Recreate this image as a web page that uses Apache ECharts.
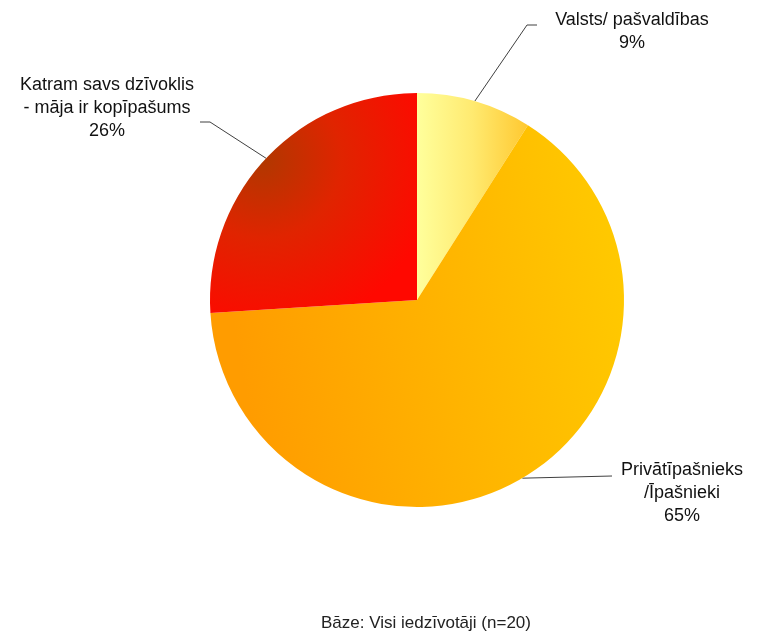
<!DOCTYPE html>
<html>
<head>
<meta charset="utf-8">
<script src="https://cdn.jsdelivr.net/npm/echarts@6/dist/echarts.min.js"></script>
<style>
html,body{margin:0;padding:0;background:#fff;}
#chart{width:759px;height:638px;}
</style>
</head>
<body>
<div id="chart"></div>
<script>
const categories = ['Valsts/ pašvaldības', 'Privātīpašnieks\n/Īpašnieki', 'Katram savs dzīvoklis\n- māja ir kopīpašums'];
const values = [9, 65, 26];
const footnote = 'Bāze: Visi iedzīvotāji (n=20)';

const fills = [
  {type:'linear', x:0, y:0, x2:1, y2:0, colorStops:[{offset:0,color:'#ffff9c'},{offset:0.5,color:'#ffea70'},{offset:1,color:'#ffc830'}]},
  {type:'linear', x:0, y:0.2, x2:1, y2:0, colorStops:[{offset:0,color:'#ff9c00'},{offset:0.5,color:'#ffb400'},{offset:1,color:'#ffcc00'}]},
  {type:'radial', x:0.25, y:0.3, r:0.85, colorStops:[{offset:0,color:'#b03800'},{offset:0.45,color:'#e02400'},{offset:1,color:'#ff0800'}]}
];
// label anchor positions (layout only)
const labelPos = [
  {x:632, y:9, lineEnd:[537,25], lineMid:[527,25]},
  {x:682, y:459, lineEnd:[612,476], lineMid:null},
  {x:107, y:74, lineEnd:[200,122], lineMid:[210,122]}
];

const chart = echarts.init(document.getElementById('chart'));
const CX = 417, CY = 300, R = 207;
chart.setOption({
  animation:false,
  backgroundColor:'#ffffff',
  graphic:[{type:'text', x:426, y:623, style:{text:footnote, font:'17px "Liberation Sans", Arial, sans-serif', fill:'#222', align:'center', verticalAlign:'middle'}}],
  series:[{
    type:'pie',
    center:[CX, CY],
    radius:[0, R],
    startAngle:90,
    clockwise:true,
    data: categories.map((c,i)=>({name:c, value:values[i], itemStyle:{color:fills[i]}})),
    itemStyle:{borderWidth:0},
    label:{
      show:true,
      formatter: p => p.name + '\n' + p.value + '%',
      fontFamily:'"Liberation Sans", Arial, sans-serif',
      fontSize:18,
      lineHeight:23,
      color:'#111',
      align:'center'
    },
    labelLine:{show:true, length:20, length2:20, lineStyle:{color:'#404040', width:1}},
    labelLayout: function(params){
      const i = params.dataIndex;
      const lp = labelPos[i];
      let start;
      if (params.labelLinePoints && params.labelLinePoints[0]) {
        start = params.labelLinePoints[0];
      } else {
        start = [CX, CY];
      }
      let pts = [start];
      if (lp.lineMid) { pts.push(lp.lineMid); pts.push(lp.lineEnd); }
      else { pts.push(lp.lineEnd); pts.push(lp.lineEnd); }
      return {x: lp.x, y: lp.y, align:'center', verticalAlign:'top', labelLinePoints: pts};
    }
  }]
});
</script>
</body>
</html>
